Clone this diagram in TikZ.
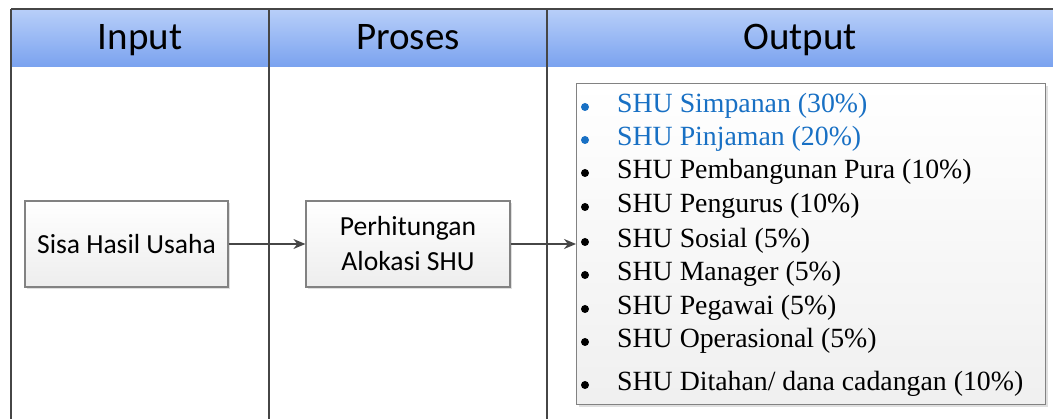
\documentclass[tikz,border=0pt]{standalone}
\usepackage{fontspec}
\setmainfont{Liberation Serif}
\newfontfamily\calfont{Carlito}
\usetikzlibrary{arrows.meta,shadows}
\definecolor{hdrtop}{RGB}{184,207,249}
\definecolor{hdrbot}{RGB}{122,162,239}
\definecolor{itemblue}{RGB}{24,112,196}
\definecolor{linegray}{RGB}{70,70,70}
\definecolor{boxgray}{RGB}{130,130,130}
\tikzset{
  hdr/.style={font=\calfont\fontsize{39}{44}\selectfont, anchor=base, inner sep=0pt},
  procbox/.style={draw=boxgray, line width=1.2pt, top color=white, bottom color=black!7,
     font=\calfont\fontsize{27.6}{35}\selectfont, align=center, inner sep=0pt,
     drop shadow={shadow xshift=2pt, shadow yshift=-2pt, opacity=0.25, fill=black!50}},
  outbox/.style={draw=boxgray, line width=1.2pt, top color=white, bottom color=black!6,
     inner sep=0pt, anchor=north west,
     drop shadow={shadow xshift=2pt, shadow yshift=-2pt, opacity=0.25, fill=black!50}},
  item/.style={font=\fontsize{27.8}{33}\selectfont, anchor=base west, inner sep=0pt},
  bul/.style={circle, fill, inner sep=0pt, minimum size=8pt},
  arr/.style={draw=linegray, line width=1.3pt, -{Stealth[length=12pt,width=10pt]}},
  coll/.style={draw=linegray, line width=1.5pt}
}
\begin{document}
\begin{tikzpicture}[x=1pt,y=-1pt]
\useasboundingbox (0,0) rectangle (1053,419);
\fill[white] (0,0) rectangle (1053,419);
% header band
\shade[top color=hdrtop, bottom color=hdrbot] (11,9) rectangle (1053,67);
\draw[coll] (11,9) -- (1053,9);
% column lines
\draw[coll] (11,9) -- (11,419);
\draw[coll] (269,9) -- (269,419);
\draw[coll] (547,9) -- (547,419);
% header texts
\node[hdr] (hin) at (140,50) {Input};
\node[hdr] (hpr) at (408,50) {Proses};
\node[hdr] (hout) at (800,50) {Output};
% process boxes
\node[procbox, minimum width=203pt, minimum height=86pt] (sisa) at (126.5,244) {Sisa Hasil Usaha};
\node[procbox, minimum width=204pt, minimum height=86pt] (proses) at (408,244) {Perhitungan\\Alokasi SHU};
% output box
\node[outbox, minimum width=469pt, minimum height=321pt] (out) at (576,83) {};
% list items
\node[bul, itemblue] (b1) at (585,107) {};
\node[bul, itemblue] (b2) at (585,140) {};
\node[bul] (b3) at (585,173) {};
\node[bul] (b4) at (585,207) {};
\node[bul] (b5) at (585,242) {};
\node[bul] (b6) at (585,275) {};
\node[bul] (b7) at (585,309) {};
\node[bul] (b8) at (585,342) {};
\node[bul] (b9) at (585,385) {};
\node[item, text=itemblue] (i1) at (617,113) {SHU Simpanan (30\%)};
\node[item, text=itemblue] (i2) at (617,146) {SHU Pinjaman (20\%)};
\node[item] (i3) at (617,179) {SHU Pembangunan Pura (10\%)};
\node[item] (i4) at (617,213) {SHU Pengurus (10\%)};
\node[item] (i5) at (617,248) {SHU Sosial (5\%)};
\node[item] (i6) at (617,281) {SHU Manager (5\%)};
\node[item] (i7) at (617,315) {SHU Pegawai (5\%)};
\node[item] (i8) at (617,348) {SHU Operasional (5\%)};
\node[item] (i9) at (617,391) {SHU Ditahan/ dana cadangan (10\%)};
% connectors
\draw[arr] (sisa.east) -- (proses.west);
\draw[arr] (proses.east) -- (proses.east -| out.west);
\end{tikzpicture}
\end{document}
